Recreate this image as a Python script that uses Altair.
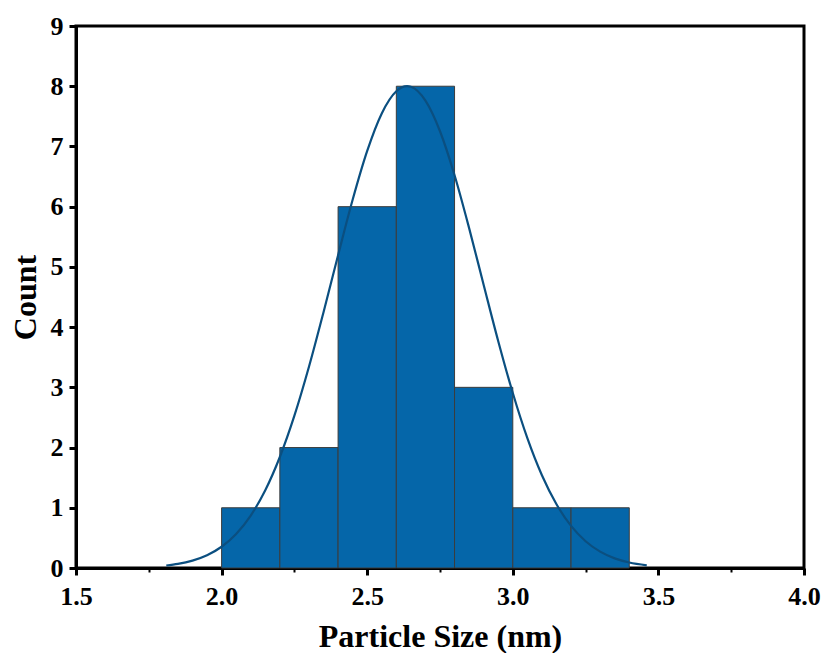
import altair as alt
import pandas as pd

# Histogram bins and counts
bin_start = [2.0, 2.2, 2.4, 2.6, 2.8, 3.0, 3.2]
bin_end = [2.2, 2.4, 2.6, 2.8, 3.0, 3.2, 3.4]
counts = [1, 2, 6, 8, 3, 1, 1]

# Fitted distribution curve
fit_x = [1.81, 1.85, 1.90, 1.95, 2.00, 2.05, 2.10, 2.15, 2.20, 2.25, 2.30, 2.35,
         2.40, 2.45, 2.50, 2.55, 2.60, 2.637, 2.65, 2.70, 2.75, 2.80, 2.85, 2.90,
         2.95, 3.00, 3.05, 3.10, 3.15, 3.20, 3.25, 3.30, 3.35, 3.40, 3.46]
fit_y = [0.042, 0.068, 0.123, 0.212, 0.353, 0.565, 0.871, 1.291, 1.843, 2.529,
         3.341, 4.247, 5.194, 6.114, 6.925, 7.548, 7.916, 8.0, 7.990, 7.760,
         7.252, 6.522, 5.644, 4.700, 3.766, 2.905, 2.155, 1.539, 1.058, 0.699,
         0.445, 0.272, 0.160, 0.091, 0.044]

# Tick positions (major + minor)
x_ticks = [1.5, 1.75, 2.0, 2.25, 2.5, 2.75, 3.0, 3.25, 3.5, 3.75, 4.0]
y_ticks = [0, 0.5, 1, 1.5, 2, 2.5, 3, 3.5, 4, 4.5, 5, 5.5, 6, 6.5, 7, 7.5, 8, 8.5, 9]

bars_df = pd.DataFrame({"start": bin_start, "end": bin_end, "count": counts})
fit_df = pd.DataFrame({"x": fit_x, "y": fit_y})

FONT = "Liberation Serif"
major_x = "abs(datum.value*2 - round(datum.value*2)) < 0.001"
major_y = "abs(datum.value - round(datum.value)) < 0.001"

xaxis = alt.Axis(
    values=x_ticks,
    labelExpr=f"{major_x} ? format(datum.value, '.1f') : ''",
    tickSize={"condition": {"test": major_x, "value": 7}, "value": 4},
    tickWidth={"condition": {"test": major_x, "value": 3}, "value": 2},
    labelOverlap=False,
    labelFlush=False,
    grid=False,
    labelPadding=8,
    titlePadding=12,
)
yaxis = alt.Axis(
    values=y_ticks,
    labelExpr=f"{major_y} ? format(datum.value, 'd') : ''",
    tickSize={"condition": {"test": major_y, "value": 7}, "value": 4},
    tickWidth={"condition": {"test": major_y, "value": 3}, "value": 2},
    labelOverlap=False,
    labelFlush=False,
    grid=False,
    labelPadding=6,
    titlePadding=8,
)

xscale = alt.Scale(domain=[1.5, 4.0], nice=False, zero=False)
yscale = alt.Scale(domain=[0, 9], nice=False)

bars = alt.Chart(bars_df).mark_rect(
    fill="#0566a9", stroke="#3c3c3c", strokeWidth=1
).encode(
    x=alt.X("start:Q", scale=xscale, axis=xaxis, title="Particle Size (nm)"),
    x2="end:Q",
    y=alt.Y("count:Q", scale=yscale, axis=yaxis, title="Count"),
    y2=alt.datum(0),
)

curve = alt.Chart(fit_df).mark_line(
    interpolate="monotone", color="#0b4f80", strokeWidth=2.2
).encode(
    x=alt.X("x:Q", scale=xscale),
    y=alt.Y("y:Q", scale=yscale),
)

chart = (
    alt.layer(bars, curve)
    .properties(
        width=728,
        height=542,
        autosize=alt.AutoSizeParams(type="none"),
        padding={"left": 68, "top": 18, "right": 18, "bottom": 85},
    )
    .configure_view(stroke="black", strokeWidth=3)
    .configure_axis(
        domainColor="black",
        domainWidth=3,
        tickColor="black",
        labelFont=FONT,
        labelFontSize=26,
        labelFontWeight="bold",
        labelColor="black",
        titleFont=FONT,
        titleFontSize=32,
        titleFontWeight="bold",
        titleColor="black",
    )
)

chart.save("out.html", embed_options={"renderer": "svg", "actions": False})
